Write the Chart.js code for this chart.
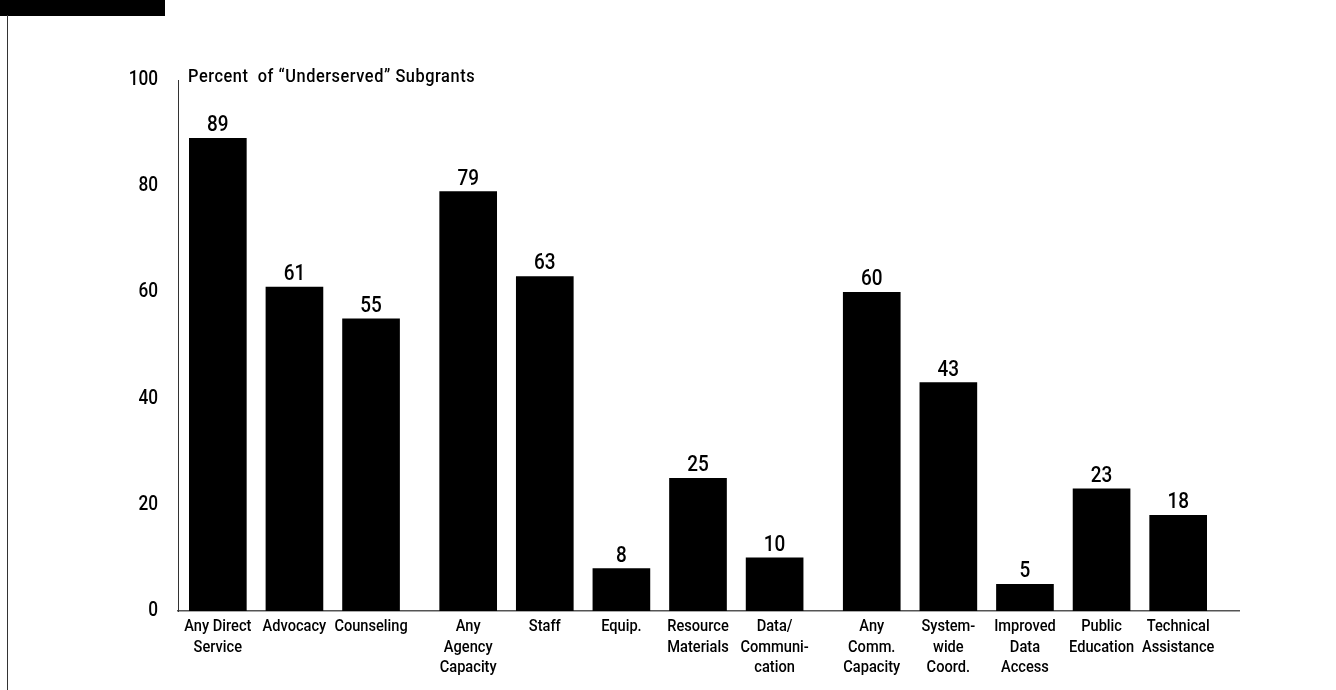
<!DOCTYPE html>
<html><head><meta charset="utf-8">
<script src="https://cdn.jsdelivr.net/npm/chart.js@4"></script>
<style>
html,body{margin:0;padding:0;background:#fff;}
#wrap{position:relative;width:1336px;height:690px;overflow:hidden;}
#box{position:absolute;left:0;top:0;width:165px;height:16px;background:#000;}
#rule{position:absolute;left:7px;top:15px;width:1px;height:675px;background:#333;}
canvas{position:absolute;left:0;top:0;}
</style></head><body>
<div id="wrap"><canvas id="c" width="1336" height="690"></canvas><div id="box"></div><div id="rule"></div></div>
<script>
// ---- data ----
const categories = [
  ["Any Direct","Service"], "Advocacy", "Counseling",
  ["Any","Agency","Capacity"], "Staff", "Equip.", ["Resource","Materials"], ["Data/","Communi-","cation"],
  ["Any","Comm.","Capacity"], ["System-","wide","Coord."], ["Improved","Data","Access"], ["Public","Education"], ["Technical","Assistance"]
];
const groupOf = [0,0,0, 1,1,1,1,1, 2,2,2,2,2];
const values = [89,61,55, 79,63,8,25,10, 60,43,5,23,18];
const yTicks = [0,20,40,60,80,100];
const yTitle = "Percent  of \u201cUnderserved\u201d Subgrants";
const GROUP_GAP = 0.268;
const positions = values.map((v,i) => i + groupOf[i]*GROUP_GAP);

// condensed look: draw all canvas text horizontally narrowed around its anchor
const SX = 0.86;
const _fill = CanvasRenderingContext2D.prototype.fillText;
CanvasRenderingContext2D.prototype.fillText = function(t, x, y, mw) {
  this.save();
  this.translate(x, y);
  this.scale(SX, 1);
  if (mw === undefined) _fill.call(this, t, 0, 0); else _fill.call(this, t, 0, 0, mw / SX);
  this.restore();
};

const FONT = "Roboto,'DejaVu Sans Condensed',sans-serif";
Chart.defaults.font.family = FONT;
Chart.defaults.font.weight = 500;
Chart.defaults.color = '#000';

const labelPlugin = {
  id: 'labels',
  afterDatasetsDraw(chart) {
    const ctx = chart.ctx;
    ctx.save();
    ctx.fillStyle = '#000';
    ctx.textAlign = 'center';
    ctx.textBaseline = 'alphabetic';
    ctx.font = "500 22px " + FONT;
    chart.getDatasetMeta(0).data.forEach((bar, i) => {
      ctx.fillText(String(values[i]), bar.x, bar.y - 7);
    });
    ctx.textAlign = 'left';
    ctx.font = "500 19px " + FONT;
    if ('letterSpacing' in ctx) ctx.letterSpacing = '0.65px';
    ctx.fillText(yTitle, chart.chartArea.left + 10, chart.chartArea.top + 2);
    ctx.restore();
  }
};

new Chart(document.getElementById('c'), {
  type: 'bar',
  data: {
    datasets: [{
      data: positions.map((x,i) => ({x: x, y: values[i]})),
      backgroundColor: '#000',
      borderWidth: 0,
      barThickness: 57
    }]
  },
  options: {
    responsive: false,
    animation: false,
    devicePixelRatio: 1,
    layout: { padding: { top: 80, right: 97, left: 0, bottom: 0 } },
    plugins: { legend: { display: false }, tooltip: { enabled: false }, title: { display: false } },
    scales: {
      x: {
        type: 'linear',
        offset: false,
        min: -0.52,
        max: 13.33,
        afterBuildTicks: axis => { axis.ticks = positions.map(v => ({ value: v })); },
        afterFit: s => { s.height = 79; },
        grid: { display: false, drawTicks: false, offset: false },
        border: { display: true, color: '#555', width: 1.5 },
        ticks: {
          autoSkip: false, maxRotation: 0, minRotation: 0, padding: 6,
          font: { size: 17, lineHeight: 1.2 },
          callback: (v, i) => categories[i]
        }
      },
      y: {
        min: 0, max: 100,
        afterBuildTicks: axis => { axis.ticks = yTicks.map(v => ({ value: v })); },
        afterFit: s => { s.width = 178; },
        grid: { display: false, drawTicks: false },
        border: { display: true, color: '#333', width: 1 },
        ticks: { padding: 20, font: { size: 20 } }
      }
    }
  },
  plugins: [labelPlugin]
});
</script>
</body></html>
